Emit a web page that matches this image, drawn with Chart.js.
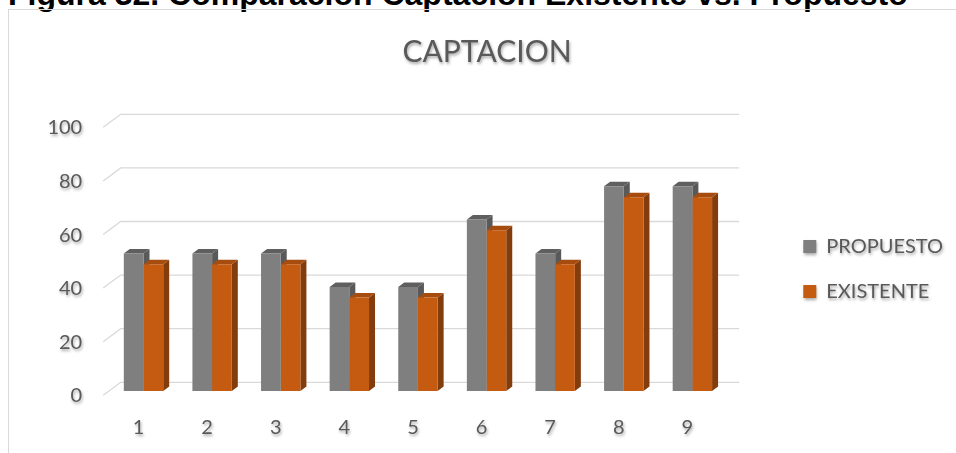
<!DOCTYPE html>
<html>
<head>
<meta charset="utf-8">
<script src="https://cdn.jsdelivr.net/npm/chart.js@4.4.1/dist/chart.umd.min.js"></script>
<style>
  body { margin: 0; background: #fff; }
  #wrap { position: relative; width: 956px; height: 453px; overflow: hidden; }
  #caption { position: absolute; left: 8px; top: -22px; font: bold 32px "Liberation Sans", Arial, sans-serif; line-height: 32px; color: #000; white-space: nowrap; }
  #frame { position: absolute; left: 8px; top: 9px; width: 1000px; height: 500px; border: 1px solid #d9d9d9; }
  #chart { position: absolute; left: 0; top: 0; }
</style>
</head>
<body>
<div id="wrap">
  <div id="caption">Figura 32. Comparación Captación Existente vs. Propuesto</div>
  <div id="frame"></div>
  <canvas id="chart" width="956" height="453"></canvas>
</div>
<script>
const categories = ["1", "2", "3", "4", "5", "6", "7", "8", "9"];
const propuesto = [51.3, 51.3, 51.3, 38.8, 38.8, 64.0, 51.3, 76.4, 76.4];
const existente = [47.3, 47.3, 47.3, 34.9, 34.9, 60.0, 47.3, 72.3, 72.3];
const yTicks = [0, 20, 40, 60, 80, 100];

const TEXT = '#595959';
const FONT = 'Lato, "Open Sans", sans-serif';

// fake 3D: offsets of floor front / back wall from the plane of the column fronts
const FLOOR_FRONT = { dx: -6, dy: 4.3 };
const WALL_BACK = { dx: 11.5, dy: -8.7 };
const BAR_DEPTH = { dx: 6, dy: 4.4 };
const faces = [
  { side: '#595959', cap: '#5f5f5f' },
  { side: '#833c0b', cap: '#a64c0f' }
];

const depthPlugin = {
  id: 'depth3d',
  beforeDraw(chart) {
    // soft shadow under all the texts, like the Excel text effect
    const ctx = chart.ctx;
    ctx.shadowColor = 'rgba(0,0,0,0.35)';
    ctx.shadowBlur = 3;
    ctx.shadowOffsetX = 1;
    ctx.shadowOffsetY = 2;
  },
  beforeDatasetsDraw(chart) {
    const ctx = chart.ctx;
    ctx.shadowColor = 'rgba(0,0,0,0)';
    ctx.shadowBlur = 0;
    ctx.shadowOffsetX = 0;
    ctx.shadowOffsetY = 0;
    const { left, right } = chart.chartArea;
    const yScale = chart.scales.y;

    ctx.save();
    ctx.strokeStyle = '#d9d9d9';
    ctx.lineWidth = 1.3;
    yTicks.forEach(v => {
      const py = yScale.getPixelForValue(v);
      ctx.beginPath();
      ctx.moveTo(left + FLOOR_FRONT.dx, py + FLOOR_FRONT.dy);
      ctx.lineTo(left + WALL_BACK.dx, py + WALL_BACK.dy);
      ctx.lineTo(right + WALL_BACK.dx + 1, py + WALL_BACK.dy);
      ctx.stroke();
    });

    // side and top faces first, Chart.js draws the fronts over them
    chart.data.datasets.forEach((ds, i) => {
      chart.getDatasetMeta(i).data.forEach(bar => {
        const { x, y, base, width } = bar.getProps(['x', 'y', 'base', 'width'], true);
        const l = x - width / 2;
        const r = x + width / 2;
        const { dx, dy } = BAR_DEPTH;
        ctx.fillStyle = faces[i].side;
        ctx.beginPath();
        ctx.moveTo(r, y);
        ctx.lineTo(r + dx, y - dy);
        ctx.lineTo(r + dx, base - dy);
        ctx.lineTo(r, base);
        ctx.closePath();
        ctx.fill();
        ctx.fillStyle = faces[i].cap;
        ctx.beginPath();
        ctx.moveTo(l, y);
        ctx.lineTo(l + dx, y - dy);
        ctx.lineTo(r + dx, y - dy);
        ctx.lineTo(r, y);
        ctx.closePath();
        ctx.fill();
      });
    });
    ctx.restore();
  }
};

new Chart(document.getElementById('chart'), {
  type: 'bar',
  data: {
    labels: categories,
    datasets: [
      {
        label: 'PROPUESTO',
        data: propuesto,
        backgroundColor: '#7f7f7f',
        borderWidth: 0,
        categoryPercentage: 0.574,
        barPercentage: 1
      },
      {
        label: 'EXISTENTE',
        data: existente,
        backgroundColor: '#c55a11',
        borderWidth: 0,
        categoryPercentage: 0.574,
        barPercentage: 1
      }
    ]
  },
  options: {
    responsive: false,
    animation: false,
    layout: { padding: { top: 10, left: 21, right: 3, bottom: 0 } },
    plugins: {
      tooltip: { enabled: false },
      title: {
        display: true,
        text: 'CAPTACION',
        color: TEXT,
        font: { family: FONT, size: 30, weight: 'normal' },
        padding: { top: 24, bottom: 53 }
      },
      legend: {
        position: 'right',
        fullSize: false,
        maxWidth: 300,
        title: { display: true, text: '', padding: 0, font: { size: 20 } },
        labels: {
          boxWidth: 13,
          boxHeight: 13,
          padding: 25,
          color: TEXT,
          font: { family: FONT, size: 20 }
        }
      }
    },
    scales: {
      x: {
        grid: { display: false, drawTicks: false },
        border: { display: false },
        ticks: { color: TEXT, font: { family: FONT, size: 20 }, padding: 25, labelOffset: -5 },
        afterFit(s) { s.height = 62; }
      },
      y: {
        min: 0,
        max: 100,
        grid: { display: false, drawTicks: false },
        border: { display: false },
        ticks: { stepSize: 20, color: TEXT, font: { family: FONT, size: 20 }, padding: 27, labelOffset: 5 },
        afterFit(s) { s.width = 88.2; }
      },
      gap: {
        type: 'linear',
        position: 'right',
        grid: { display: false, drawTicks: false },
        border: { display: false },
        ticks: { display: false },
        afterFit(s) { s.width = 51.6; }
      }
    }
  },
  plugins: [depthPlugin]
});
</script>
</body>
</html>
